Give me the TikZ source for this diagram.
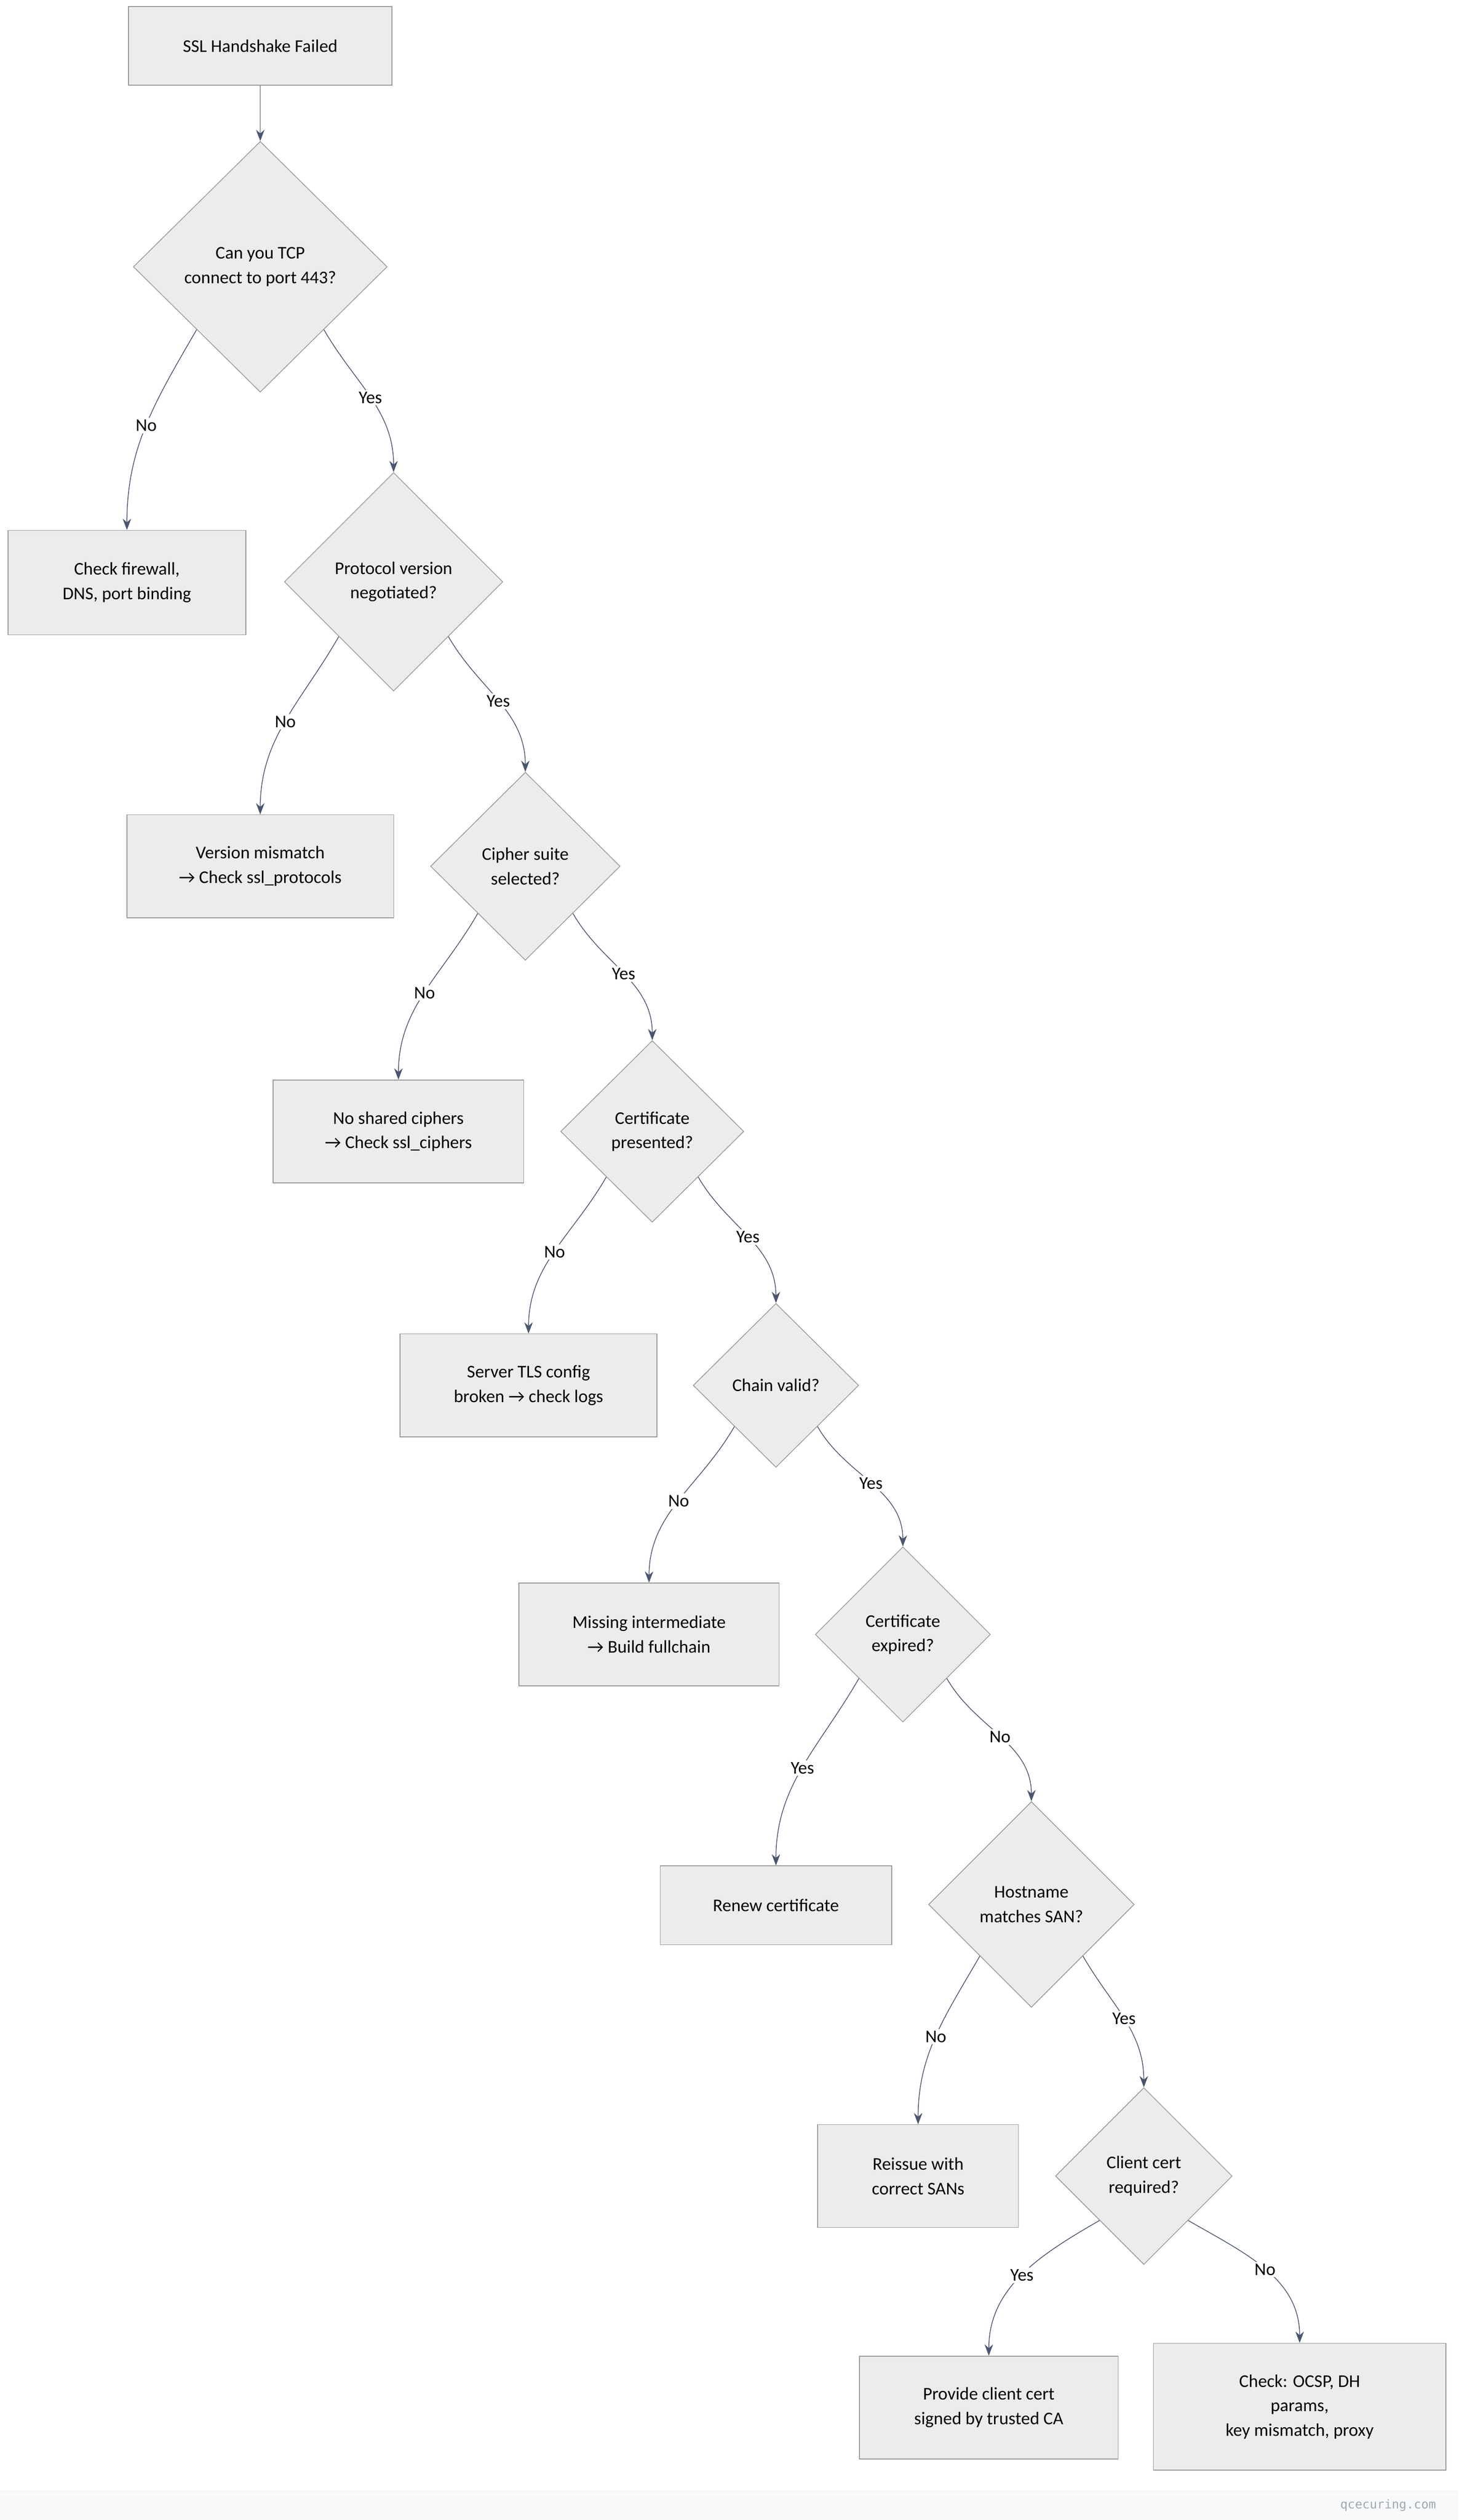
\documentclass[tikz,border=0pt]{standalone}
\usepackage{fontspec}
\setmainfont{Carlito}
\setmonofont{DejaVu Sans Mono}
\usetikzlibrary{shapes.geometric}
\usetikzlibrary{arrows.meta}
\definecolor{boxfill}{HTML}{ECECEC}
\definecolor{boxline}{HTML}{9A9A9A}
\definecolor{edgecol}{HTML}{4A5670}
\definecolor{footfill}{HTML}{F8F9FA}
\definecolor{foottext}{HTML}{A0A8B0}
\newcommand{\pxu}{0.03cm}

\begin{document}
\begin{tikzpicture}[x=0.03cm,y=-0.03cm,
        every node/.style={font=\fontsize{9.5}{13}\selectfont},
        action/.style={draw=boxline,fill=boxfill,rectangle,align=center,minimum height=64*\pxu,inner sep=2pt},
        test/.style={draw=boxline,fill=boxfill,diamond,align=center,inner sep=0pt},
        flow/.style={draw=edgecol,-{Stealth[length=6pt,width=4.5pt]}},
        lbl/.style={fill=white,inner sep=1pt}]
   \useasboundingbox (0,0) rectangle (908,1568);
   \fill[footfill] (0,1550) rectangle (908,1568);
   \draw[black!6] (0,1550) -- (908,1550);
   \node[text=foottext,font=\ttfamily\fontsize{6.5}{8}\selectfont,anchor=east] (foot) at (898,1559) {qcecuring.com};

   \node (start) [action,minimum width=164*\pxu,minimum height=49*\pxu] at (162,28.5) {SSL Handshake Failed};
   \node (tcp) [test,minimum width=158*\pxu,minimum height=156*\pxu] at (162,166) {Can you TCP\\connect to port 443?};
   \node (fw) [action,minimum width=148*\pxu,minimum height=65*\pxu] at (79,362.5) {Check firewall,\\DNS, port binding};
   \node (proto) [test,minimum width=136*\pxu,minimum height=136*\pxu] at (245,362) {Protocol version\\negotiated?};
   \node (vers) [action,minimum width=166*\pxu] at (162,539) {Version mismatch\\→ Check ssl\_protocols};
   \node (ciph) [test,minimum width=118*\pxu,minimum height=117*\pxu] at (327,539) {Cipher suite\\selected?};
   \node (noci) [action,minimum width=156*\pxu] at (248,704) {No shared ciphers\\→ Check ssl\_ciphers};
   \node (cert) [test,minimum width=114*\pxu,minimum height=113*\pxu] at (406,704) {Certificate\\presented?};
   \node (tls) [action,minimum width=160*\pxu] at (329,862) {Server TLS config\\broken → check logs};
   \node (chain) [test,minimum width=103*\pxu,minimum height=102*\pxu] at (483,862) {Chain valid?};
   \node (inter) [action,minimum width=162*\pxu] at (404,1017) {Missing intermediate\\→ Build fullchain};
   \node (exp) [test,minimum width=109*\pxu,minimum height=109*\pxu] at (562,1017) {Certificate\\expired?};
   \node (renew) [action,minimum width=144*\pxu,minimum height=49*\pxu] at (483,1185.5) {Renew certificate};
   \node (host) [test,minimum width=128*\pxu,minimum height=128*\pxu] at (642,1185) {Hostname\\matches SAN?};
   \node (reiss) [action,minimum width=125*\pxu] at (571.5,1354) {Reissue with\\correct SANs};
   \node (client) [test,minimum width=110*\pxu,minimum height=110*\pxu] at (712,1354) {Client cert\\required?};
   \node (prov) [action,minimum width=161*\pxu] at (615.5,1498) {Provide client cert\\signed by trusted CA};
   \node (other) [action,minimum width=182*\pxu,minimum height=79*\pxu] at (809,1497.5) {Check: OCSP, DH\\params,\\key mismatch, proxy};

   \draw[flow] (start) -- (tcp);
   \draw[flow] (tcp.south west) to[out=240,in=90] node[lbl] {No} (fw.north);
   \draw[flow] (tcp.south east) to[out=-60,in=90] node[lbl] {Yes} (proto.north);
   \draw[flow] (proto.south west) to[out=240,in=90] node[lbl] {No} (vers.north);
   \draw[flow] (proto.south east) to[out=-60,in=90] node[lbl] {Yes} (ciph.north);
   \draw[flow] (ciph.south west) to[out=240,in=90] node[lbl] {No} (noci.north);
   \draw[flow] (ciph.south east) to[out=-60,in=90] node[lbl] {Yes} (cert.north);
   \draw[flow] (cert.south west) to[out=240,in=90] node[lbl] {No} (tls.north);
   \draw[flow] (cert.south east) to[out=-60,in=90] node[lbl] {Yes} (chain.north);
   \draw[flow] (chain.south west) to[out=240,in=90] node[lbl] {No} (inter.north);
   \draw[flow] (chain.south east) to[out=-60,in=90] node[lbl] {Yes} (exp.north);
   \draw[flow] (exp.south west) to[out=240,in=90] node[lbl] {Yes} (renew.north);
   \draw[flow] (exp.south east) to[out=-60,in=90] node[lbl] {No} (host.north);
   \draw[flow] (host.south west) to[out=240,in=90] node[lbl] {No} (reiss.north);
   \draw[flow] (host.south east) to[out=-60,in=90] node[lbl] {Yes} (client.north);
   \draw[flow] (client.south west) to[out=210,in=90] node[lbl] {Yes} (prov.north);
   \draw[flow] (client.south east) to[out=-30,in=90] node[lbl] {No} (other.north);
\end{tikzpicture}
\end{document}
